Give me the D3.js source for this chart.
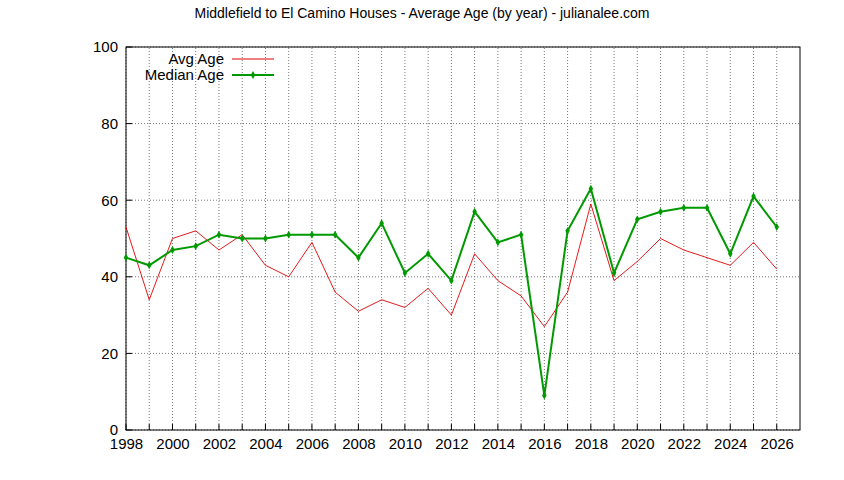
<!DOCTYPE html>
<html><head><meta charset="utf-8">
<script src="https://cdn.jsdelivr.net/npm/d3@7"></script>
<style>body{margin:0;background:#fff}svg{font-family:"Liberation Sans",Arial,sans-serif}</style>
</head><body><div id="chart"></div>
<script>
const years = d3.range(1998, 2027);
const avgAge = [53,34,50,52,47,51,43,40,49,36,31,34,32,37,30,46,39,35,27,36,59,39,44,50,47,45,43,49,42];
const medianAge = [45,43,47,48,51,50,50,51,51,51,45,54,41,46,39,57,49,51,9,52,63,41,55,57,58,58,46,61,53];
const xTicks = d3.range(1998, 2027, 2);
const yTicks = [0,20,40,60,80,100];

const width = 844, height = 480;
const margin = {top: 47, right: 44, bottom: 50, left: 126};

const svg = d3.select("#chart").append("svg").attr("width", width).attr("height", height);

const x = d3.scaleLinear().domain([1998, 2027]).range([margin.left, width - margin.right]);
const y = d3.scaleLinear().domain([0, 100]).range([height - margin.bottom, margin.top]);

// grid
const grid = svg.append("g").attr("stroke", "#777").attr("stroke-dasharray", "1,2").attr("stroke-width", 1);
years.forEach(v => grid.append("line").attr("x1", x(v)).attr("x2", x(v)).attr("y1", y(0)).attr("y2", y(100)));
yTicks.forEach(v => grid.append("line").attr("x1", x(1998)).attr("x2", x(2027)).attr("y1", y(v)).attr("y2", y(v)));

// border
svg.append("rect").attr("x", x(1998)).attr("y", y(100))
  .attr("width", x(2027) - x(1998)).attr("height", y(0) - y(100))
  .attr("fill", "none").attr("stroke", "#000");

// axes
const xAxis = svg.append("g").attr("transform", `translate(0,${y(0)})`)
  .call(d3.axisBottom(x).tickValues(xTicks).tickFormat(d3.format("d")).tickSize(0).tickPadding(8));
const yAxis = svg.append("g").attr("transform", `translate(${x(1998)},0)`)
  .call(d3.axisLeft(y).tickValues(yTicks).tickSize(0).tickPadding(8));
[xAxis, yAxis].forEach(a => {
  a.select(".domain").remove();
  a.selectAll("text").attr("font-size", 15).attr("fill", "#000").style("font-family", "Liberation Sans, Arial, sans-serif");
});
years.forEach(v => {
  svg.append("line").attr("x1", x(v)).attr("x2", x(v)).attr("y1", y(0)).attr("y2", y(0) - 6).attr("stroke", "#000");
});
yTicks.forEach(v => {
  svg.append("line").attr("x1", x(1998)).attr("x2", x(1998) + 6).attr("y1", y(v)).attr("y2", y(v)).attr("stroke", "#000");
});

const line = d3.line().x((d, i) => x(years[i])).y(d => y(d));
svg.append("path").datum(avgAge).attr("d", line).attr("fill", "none").attr("stroke", "#e00000").attr("stroke-width", 0.9);
svg.append("path").datum(medianAge).attr("d", line).attr("fill", "none").attr("stroke", "#009900").attr("stroke-width", 2);
const diamond = d3.symbol().type(d3.symbolDiamond).size(18);
svg.selectAll("path.m").data(medianAge).enter().append("path").attr("class", "m")
  .attr("d", diamond).attr("transform", (d, i) => `translate(${x(years[i])},${y(d)})`).attr("fill", "#009900");

// legend
svg.append("text").attr("x", 224).attr("y", 64).attr("text-anchor", "end").attr("font-size", 15).text("Avg Age");
svg.append("line").attr("x1", 232).attr("x2", 274).attr("y1", 59).attr("y2", 59).attr("stroke", "#e00000");
svg.append("text").attr("x", 224).attr("y", 80).attr("text-anchor", "end").attr("font-size", 15).text("Median Age");
svg.append("line").attr("x1", 232).attr("x2", 274).attr("y1", 75).attr("y2", 75).attr("stroke", "#009900").attr("stroke-width", 2);
svg.append("path").attr("d", diamond).attr("transform", "translate(253,75)").attr("fill", "#009900");

// title
svg.append("text").attr("x", 422).attr("y", 18).attr("text-anchor", "middle").attr("font-size", 14)
  .text("Middlefield to El Camino Houses - Average Age (by year) - julianalee.com");
</script></body></html>
